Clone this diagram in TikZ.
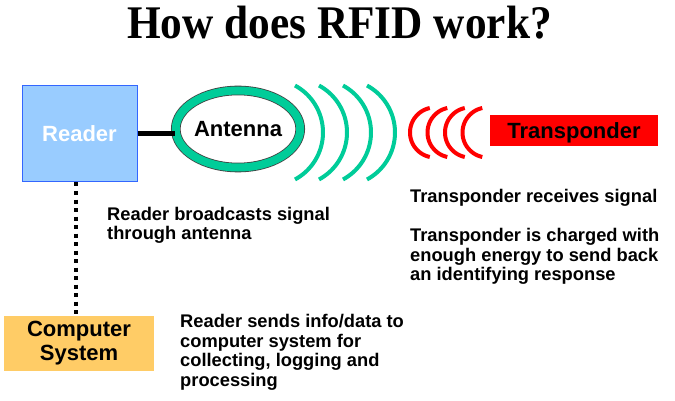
\documentclass[tikz,border=0pt]{standalone}
\usepackage{fontspec}
\usepackage{graphicx}
\setmainfont{Liberation Sans}
\newfontfamily\titlefont{Liberation Serif}
\usetikzlibrary{shapes.geometric}
\definecolor{wavegreen}{HTML}{00CC99}
\definecolor{readerblue}{HTML}{99CCFF}
\definecolor{readerborder}{HTML}{3366FF}
\definecolor{compyellow}{HTML}{FFCC66}
\begin{document}
\begin{tikzpicture}[x=1pt,y=-1pt,
  boxlabel/.style={font=\bfseries\fontsize{22}{23}\selectfont, inner sep=0pt, align=center},
  bodytext/.style={font=\bfseries\fontsize{18.3}{19.5}\selectfont, inner sep=0pt, anchor=base west, align=left},
  wave/.style={line width=4pt, wavegreen},
  redwave/.style={line width=4pt, red}]
\fill[white] (0,0) rectangle (675,401);
\useasboundingbox (0,0) rectangle (675,401);

\node[inner sep=0pt, anchor=base] (title) at (339.5,39)
  {\scalebox{1}[1.08]{\titlefont\bfseries\fontsize{43.3}{50}\selectfont How does RFID work?}};

\node[boxlabel, draw=readerborder, fill=readerblue, line width=1pt,
      minimum width=115pt, minimum height=96pt, text=white] (reader) at (79.5,134) {Reader};

\node[boxlabel, ellipse, draw=black!75, line width=0.8pt, double=wavegreen,
      double distance=8pt, fill=white, minimum width=121.5pt, minimum height=77pt]
      (antenna) at (238,129) {Antenna};

\node[boxlabel, fill=red, minimum width=168pt, minimum height=31pt, text depth=0pt]
      (transponder) at (574,130.5) {Transponder};

\node[boxlabel, font=\bfseries\fontsize{22}{24}\selectfont, fill=compyellow,
      minimum width=150pt, minimum height=55pt]
      (computer) at (79,343) {Computer\\System};

\draw[line width=5pt] (reader.east) -- (reader.east -| antenna.west);
\draw[line width=4pt, dash pattern=on 4pt off 4.5pt]
  ([xshift=-3.5pt]reader.south) -- ([xshift=-3pt]computer.north);

\foreach \b in {323,347,371,395}
  \draw[wave] plot[domain=-61.6:61.6, samples=40, smooth]
    ({\b-53.4+53.4*cos(\x)}, {132.5+53.4*sin(\x)});
\foreach \l in {410,427.5,445,462.5}
  \draw[redwave] plot[domain=102:258, samples=40, smooth]
    ({\l+25+25*cos(\x)}, {132.5+25*sin(\x)});

% base anchor of a multi-line node is the baseline of its last line
\node[bodytext] (t1) at (107,240) {Reader broadcasts signal\\through antenna};
\node[bodytext] (t2) at (410,202) {Transponder receives signal};
\node[bodytext] (t3) at (410,280.5) {Transponder is charged with\\enough energy to send back\\an identifying response};
\node[bodytext] (t4) at (180,386) {Reader sends info/data to\\computer system for\\collecting, logging and\\processing};
\end{tikzpicture}
\end{document}
